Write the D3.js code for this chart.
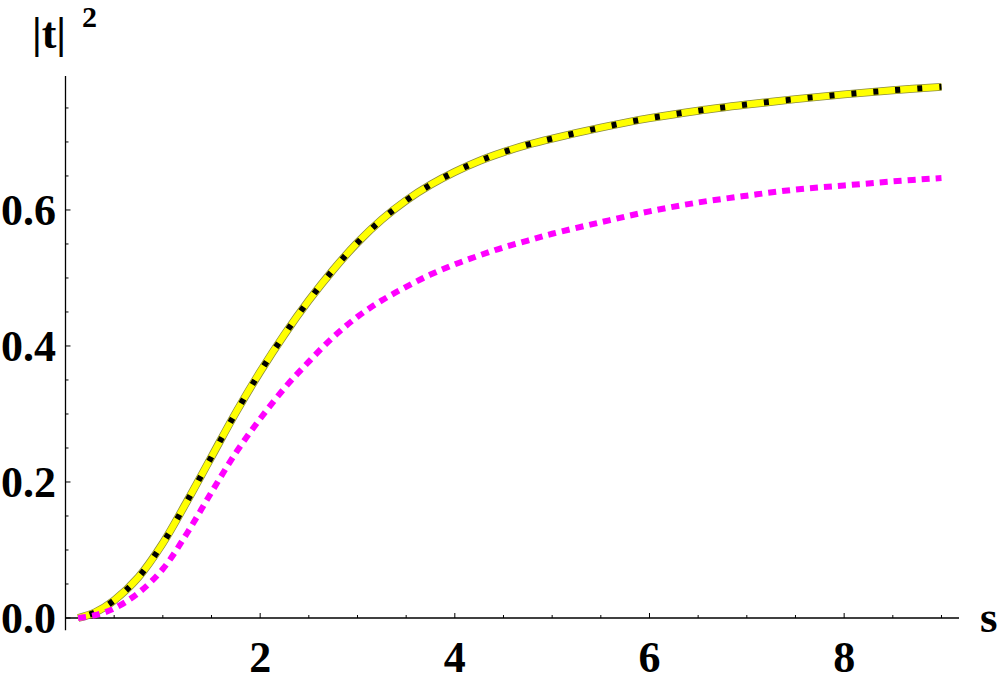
<!DOCTYPE html>
<html>
<head>
<meta charset="utf-8">
<script src="https://cdn.jsdelivr.net/npm/d3@7"></script>
<style>
  html, body { margin: 0; padding: 0; background: #fff; }
  svg { display: block; }
  text { font-family: "Liberation Serif", "Times New Roman", Times, serif; font-weight: 700; fill: #000; }
</style>
</head>
<body>
<svg id="chart" width="1000" height="688"></svg>
<script>
// ---- data ----
const sValues = [0.13, 0.3, 0.5, 0.75, 1.0, 1.25, 1.5, 1.75, 2.0, 2.25, 2.5, 2.75, 3.0, 3.25, 3.5, 3.75, 4.0, 4.25, 4.5, 4.75, 5.0, 5.5, 6.0, 6.5, 7.0, 7.5, 8.0, 8.5, 9.0];
const yellowValues = [0.0, 0.008, 0.026, 0.06, 0.11, 0.172, 0.237, 0.302, 0.362, 0.417, 0.467, 0.512, 0.552, 0.586, 0.614, 0.637, 0.656, 0.672, 0.685, 0.696, 0.705, 0.721, 0.735, 0.746, 0.755, 0.763, 0.77, 0.776, 0.781];
const magentaValues = [0.0, 0.004, 0.014, 0.037, 0.072, 0.125, 0.185, 0.243, 0.293, 0.338, 0.377, 0.413, 0.443, 0.467, 0.487, 0.505, 0.52, 0.533, 0.545, 0.555, 0.565, 0.582, 0.598, 0.611, 0.621, 0.63, 0.636, 0.642, 0.647];
const xMajorTicks = [2, 4, 6, 8];
const xTickLabels = ["2", "4", "6", "8"];
const xMinorTicks = d3.range(0.5, 9.01, 0.5);
const yMajorTicks = [0, 0.2, 0.4, 0.6];
const yTickLabels = ["0.0", "0.2", "0.4", "0.6"];
const yMinorTicks = d3.range(0.05, 0.76, 0.05);

// ---- scales ----
const x = d3.scaleLinear().domain([0, 9.18]).range([65.5, 959]);
const y = d3.scaleLinear().domain([0, 0.797]).range([618, 76]);
const yBottom = -0.018;

const svg = d3.select("#chart");

// ---- axes ----
const ax = svg.append("g").attr("stroke", "#000").attr("stroke-width", 1.3);
ax.append("line").attr("x1", x(0)).attr("x2", x(9.18)).attr("y1", y(0)).attr("y2", y(0));
ax.append("line").attr("x1", x(0)).attr("x2", x(0)).attr("y1", y(yBottom)).attr("y2", y(0.797));

ax.selectAll("line.xminor").data(xMinorTicks.filter(d => !xMajorTicks.some(m => Math.abs(m - d) < 1e-6)))
  .enter().append("line").attr("class", "xminor")
  .attr("x1", d => x(d)).attr("x2", d => x(d)).attr("y1", y(0)).attr("y2", y(0) - 3)
  .attr("stroke-width", 1);
ax.selectAll("line.xmajor").data(xMajorTicks)
  .enter().append("line").attr("class", "xmajor")
  .attr("x1", d => x(d)).attr("x2", d => x(d)).attr("y1", y(0)).attr("y2", y(0) - 5)
  .attr("stroke-width", 1);

ax.selectAll("line.yminor").data(yMinorTicks.filter(d => !yMajorTicks.some(m => Math.abs(m - d) < 1e-6)))
  .enter().append("line").attr("class", "yminor")
  .attr("x1", x(0)).attr("x2", x(0) + 3).attr("y1", d => y(d)).attr("y2", d => y(d))
  .attr("stroke-width", 1);
ax.selectAll("line.ymajor").data(yMajorTicks)
  .enter().append("line").attr("class", "ymajor")
  .attr("x1", x(0)).attr("x2", x(0) + 5).attr("y1", d => y(d)).attr("y2", d => y(d))
  .attr("stroke-width", 1);

// tick labels
svg.selectAll("text.xl").data(xMajorTicks).enter().append("text").attr("class", "xl")
  .attr("x", d => x(d)).attr("y", 672).attr("text-anchor", "middle")
  .style("font-size", "44px").text((d, i) => xTickLabels[i]);
svg.selectAll("text.yl").data(yMajorTicks).enter().append("text").attr("class", "yl")
  .attr("x", 56).attr("y", d => y(d) + 15).attr("text-anchor", "end")
  .style("font-size", "44px").text((d, i) => yTickLabels[i]);

// axis labels
svg.append("text").attr("x", 32).attr("y", 48).style("font-size", "44px").text("|t|");
svg.append("text").attr("x", 82).attr("y", 27).style("font-size", "30px").text("2");
svg.append("text").attr("x", 980).attr("y", 632).style("font-size", "45px").text("s");

// ---- curves ----
const yellowData = sValues.map((s, i) => [s, yellowValues[i]]);
const magentaData = sValues.map((s, i) => [s, magentaValues[i]]);
const line = d3.line().x(d => x(d[0])).y(d => y(d[1])).curve(d3.curveCatmullRom.alpha(0.5));

svg.append("path").datum(yellowData).attr("d", line)
  .attr("fill", "none").attr("stroke", "#8a8a40").attr("stroke-width", 8);
svg.append("path").datum(yellowData).attr("d", line)
  .attr("fill", "none").attr("stroke", "#ffff00").attr("stroke-width", 6.5);
svg.append("path").datum(yellowData).attr("d", line)
  .attr("fill", "none").attr("stroke", "#000").attr("stroke-width", 6)
  .attr("stroke-dasharray", "5,17").attr("stroke-dashoffset", -12);
svg.append("path").datum(magentaData).attr("d", line)
  .attr("fill", "none").attr("stroke", "#ff00ff").attr("stroke-width", 6)
  .attr("stroke-dasharray", "8,6");
</script>
</body>
</html>
